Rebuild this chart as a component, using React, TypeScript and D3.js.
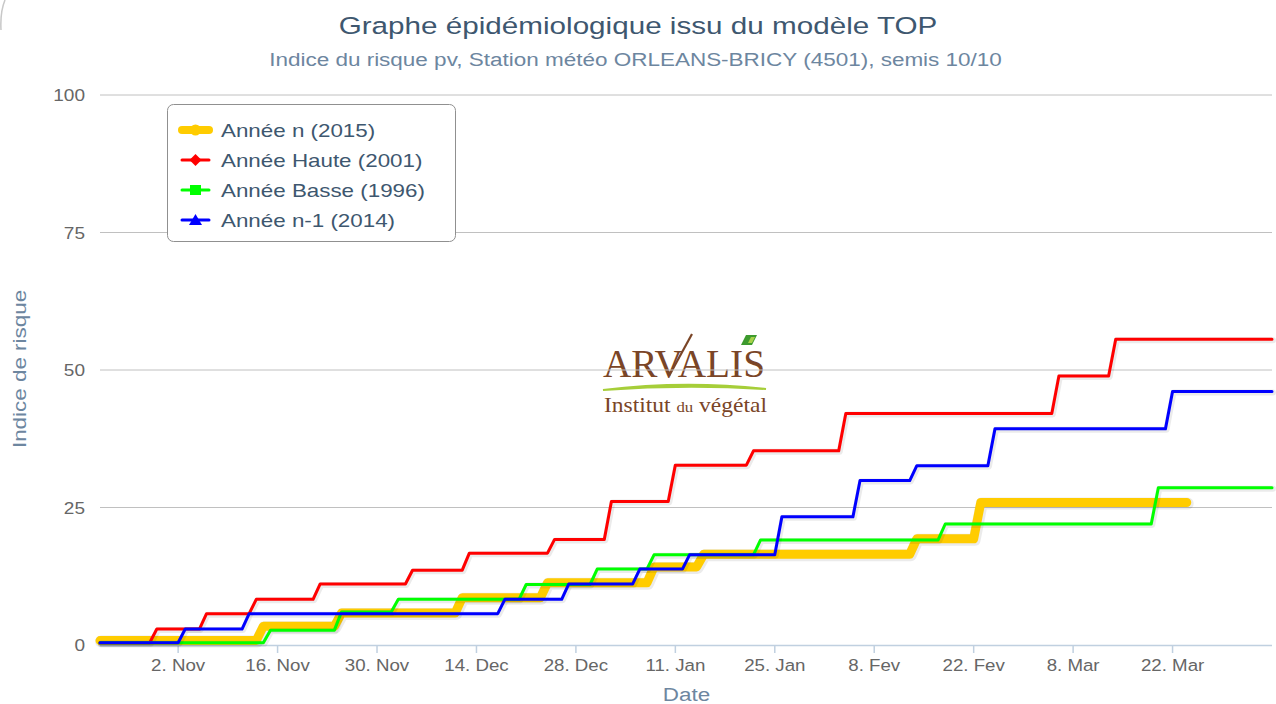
import React from 'react';
import * as d3 from 'd3';

// step series: [date, risk index]
const anneeN: [string, number][] = [
  ['2014-10-22', 0.8], ['2014-11-13', 0.8], ['2014-11-14', 3.4], ['2014-11-24', 3.4],
  ['2014-11-25', 5.8], ['2014-12-11', 5.8], ['2014-12-12', 8.6], ['2014-12-23', 8.6],
  ['2014-12-24', 11.3], ['2015-01-07', 11.3], ['2015-01-08', 14.2], ['2015-01-14', 14.2],
  ['2015-01-15', 16.5], ['2015-02-13', 16.5], ['2015-02-14', 19.3], ['2015-02-22', 19.3],
  ['2015-02-23', 25.9], ['2015-03-24', 25.9],
];

const anneeHaute: [string, number][] = [
  ['2014-10-22', 0.4], ['2014-10-29', 0.4], ['2014-10-30', 2.9], ['2014-11-05', 2.9],
  ['2014-11-06', 5.7], ['2014-11-12', 5.7], ['2014-11-13', 8.3], ['2014-11-21', 8.3],
  ['2014-11-22', 11.1], ['2014-12-04', 11.1], ['2014-12-05', 13.6], ['2014-12-12', 13.6],
  ['2014-12-13', 16.7], ['2014-12-24', 16.7], ['2014-12-25', 19.2], ['2015-01-01', 19.2],
  ['2015-01-02', 26.1], ['2015-01-10', 26.1], ['2015-01-11', 32.7], ['2015-01-21', 32.7],
  ['2015-01-22', 35.3], ['2015-02-03', 35.3], ['2015-02-04', 42.1], ['2015-03-05', 42.1],
  ['2015-03-06', 48.9], ['2015-03-13', 48.9], ['2015-03-14', 55.6], ['2015-04-05', 55.6],
];

const anneeBasse: [string, number][] = [
  ['2014-10-22', 0.4], ['2014-11-14', 0.4], ['2014-11-15', 2.7], ['2014-11-24', 2.7],
  ['2014-11-25', 6.0], ['2014-12-02', 6.0], ['2014-12-03', 8.3], ['2014-12-20', 8.3],
  ['2014-12-21', 11.0], ['2014-12-30', 11.0], ['2014-12-31', 13.8], ['2015-01-07', 13.8],
  ['2015-01-08', 16.4], ['2015-01-22', 16.4], ['2015-01-23', 19.1], ['2015-02-17', 19.1],
  ['2015-02-18', 22.0], ['2015-03-19', 22.0], ['2015-03-20', 28.6], ['2015-04-05', 28.6],
];

const anneeN1: [string, number][] = [
  ['2014-10-22', 0.4], ['2014-11-02', 0.4], ['2014-11-03', 2.9], ['2014-11-11', 2.9],
  ['2014-11-12', 5.7], ['2014-12-17', 5.7], ['2014-12-18', 8.3], ['2014-12-26', 8.3],
  ['2014-12-27', 11.1], ['2015-01-05', 11.1], ['2015-01-06', 13.8], ['2015-01-12', 13.8],
  ['2015-01-13', 16.4], ['2015-01-25', 16.4], ['2015-01-26', 23.3], ['2015-02-05', 23.3],
  ['2015-02-06', 29.9], ['2015-02-13', 29.9], ['2015-02-14', 32.6], ['2015-02-24', 32.6],
  ['2015-02-25', 39.3], ['2015-03-21', 39.3], ['2015-03-22', 46.1], ['2015-04-05', 46.1],
];

const xTicks = ['2014-11-02', '2014-11-16', '2014-11-30', '2014-12-14', '2014-12-28',
  '2015-01-11', '2015-01-25', '2015-02-08', '2015-02-22', '2015-03-08', '2015-03-22'];
const yTicks = [0, 25, 50, 75, 100];
const moisCourts = ['Jan', 'Fev', 'Mar', 'Avr', 'Mai', 'Juin', 'Juil', 'Aou', 'Sep', 'Oct', 'Nov', 'Dec'];

const series = [
  { name: 'Année n (2015)', data: anneeN, color: '#FFCC00', width: 9, marker: 'circle' },
  { name: 'Année Haute (2001)', data: anneeHaute, color: '#FF0000', width: 3, marker: 'diamond' },
  { name: 'Année Basse (1996)', data: anneeBasse, color: '#00FF00', width: 3, marker: 'square' },
  { name: 'Année n-1 (2014)', data: anneeN1, color: '#0000FF', width: 3, marker: 'triangle' },
];

const W = 1276;
const H = 704;
const FONT = '"Liberation Sans", Arial, Helvetica, sans-serif';
const SERIF = '"Liberation Serif", "Times New Roman", serif';
// the original glyphs are wider than Arial at the same height
const STRETCH = 1.21;

const parse = d3.utcParse('%Y-%m-%d');

const markerPath = (kind: string, cx: number, cy: number) => {
  if (kind === 'diamond') return `M${cx} ${cy - 6}L${cx + 6} ${cy}L${cx} ${cy + 6}L${cx - 6} ${cy}Z`;
  if (kind === 'square') return `M${cx - 5.5} ${cy - 5}h11v10h-11Z`;
  if (kind === 'triangle') return `M${cx} ${cy - 6}L${cx + 6.5} ${cy + 5}L${cx - 6.5} ${cy + 5}Z`;
  return `M${cx - 5.5} ${cy}a5.5 5.5 0 1 0 11 0a5.5 5.5 0 1 0 -11 0Z`;
};

export default function App() {
  const x = d3.scaleUtc()
    .domain([parse('2014-10-22') as Date, parse('2015-04-05') as Date])
    .range([100, 1272]);
  const y = d3.scaleLinear().domain([0, 100]).range([645, 95]);

  const line = d3.line<[string, number]>()
    .x(d => x(parse(d[0]) as Date))
    .y(d => y(d[1]));

  const fmt = (s: string) => {
    const d = parse(s) as Date;
    return `${d.getUTCDate()}. ${moisCourts[d.getUTCMonth()]}`;
  };

  return (
    <svg width={W} height={H} style={{ position: 'absolute', left: 0, top: 0, background: '#fff' }}
      fontFamily={FONT}>
      <rect width={W} height={H} fill="#fff" />
      <path d="M5 0 Q0 12 1 30" fill="none" stroke="#c8c8c8" strokeWidth={1.5} />

      {/* titles */}
      <text transform={`translate(638,34) scale(${STRETCH},1)`} textAnchor="middle" fontSize={24.5} fill="#3E576F">
        Graphe épidémiologique issu du modèle TOP
      </text>
      <text transform={`translate(635.5,66) scale(1.25,1)`} textAnchor="middle" fontSize={18} fill="#6D869F">
        Indice du risque pv, Station météo ORLEANS-BRICY (4501), semis 10/10
      </text>

      {/* logo ARVALIS */}
      <g>
        <text x={603} y={377} fontFamily={SERIF} fontSize={40} fill="#7A4527"
          textLength={162} lengthAdjust="spacingAndGlyphs">ARVALIS</text>
        <path d="M669 376 L692 334" stroke="#7A4527" strokeWidth={2.2} />
        <path d="M741 345 L746 335 L757 335 L752 345 Z" fill="#3D9A2E" />
        <path d="M748 343 L751 337 L755 337 L752 343 Z" fill="#A7D14A" />
        <path d="M603 390 Q684 380 766 389 Q684 384 603 390 Z" fill="#A6CE39" stroke="#A6CE39" strokeWidth={2} />
        <text x={604} y={412} fontFamily={SERIF} fontSize={21} fill="#7A4527"
          textLength={163} lengthAdjust="spacingAndGlyphs">
          Institut <tspan fontSize={15}>du</tspan> végétal
        </text>
      </g>

      {/* grid */}
      {yTicks.map(t => (
        <line key={t} x1={100} x2={1272} y1={y(t)} y2={y(t)}
          stroke={t === 0 ? 'none' : '#C0C0C0'} strokeWidth={1} />
      ))}
      {yTicks.map(t => (
        <text key={'l' + t} transform={`translate(85,${y(t) + 6}) scale(1.12,1)`} textAnchor="end"
          fontSize={17} fill="#666">{t}</text>
      ))}
      <text transform={`translate(26,369) rotate(-90) scale(1.18,1)`} textAnchor="middle" fontSize={19} fill="#6D869F">
        Indice de risque
      </text>

      {/* x axis */}
      <line x1={100} x2={1272} y1={645.5} y2={645.5} stroke="#C0D0E0" strokeWidth={1.5} />
      {xTicks.map(t => (
        <g key={t}>
          <line x1={x(parse(t) as Date)} x2={x(parse(t) as Date)} y1={645} y2={653}
            stroke="#C0D0E0" strokeWidth={1.5} />
          <text transform={`translate(${x(parse(t) as Date)},671) scale(1.1,1)`} textAnchor="middle"
            fontSize={17} fill="#666">{fmt(t)}</text>
        </g>
      ))}
      <text transform={`translate(686.5,701) scale(1.18,1)`} textAnchor="middle" fontSize={19} fill="#6D869F">Date</text>

      {/* series */}
      {series.map(s => (
        <g key={s.name}>
          <path d={line(s.data) || ''} transform="translate(1,1)" fill="none" stroke="#000"
            strokeOpacity={0.08} strokeWidth={s.width + 3} strokeLinejoin="round" strokeLinecap="round" />
          <path d={line(s.data) || ''} fill="none" stroke={s.color} strokeWidth={s.width}
            strokeLinejoin="round" strokeLinecap="round" />
        </g>
      ))}

      {/* legend */}
      <rect x={167.5} y={104.5} width={288} height={137} rx={6} fill="#fff" stroke="#909090" strokeWidth={1} />
      {series.map((s, i) => {
        const cy = 130 + i * 30;
        return (
          <g key={'lg' + s.name}>
            <line x1={182} x2={209} y1={cy} y2={cy} stroke={s.color}
              strokeWidth={s.width === 9 ? 8 : 3} strokeLinecap="round" />
            <path d={markerPath(s.marker, 195.5, cy)} fill={s.color} />
            <text transform={`translate(221,${cy + 6.5}) scale(${STRETCH},1)`} fontSize={18.5} fill="#3E576F">{s.name}</text>
          </g>
        );
      })}
    </svg>
  );
}
